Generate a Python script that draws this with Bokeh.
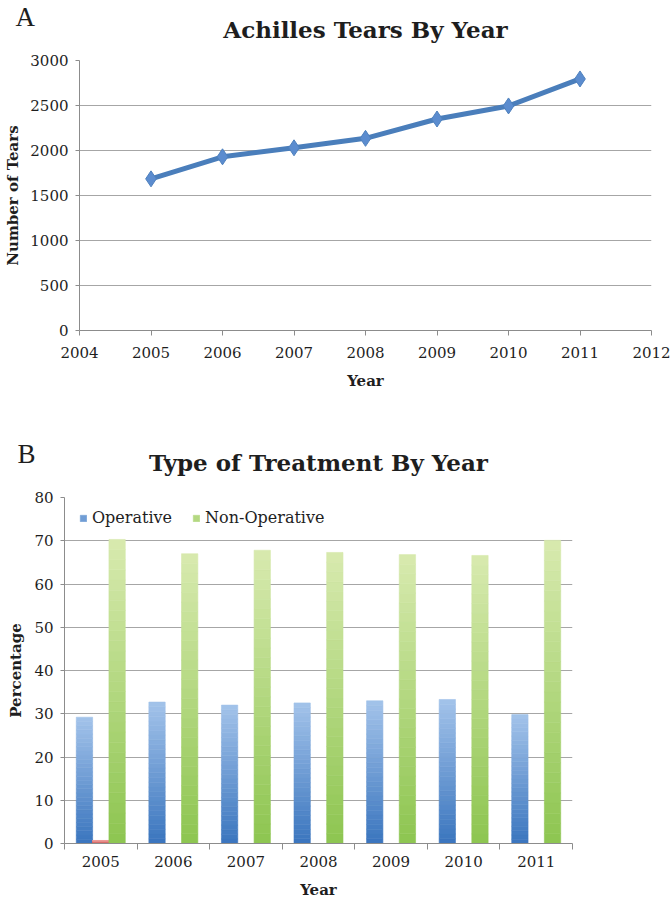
from bokeh.plotting import figure
from bokeh.models import (ColumnDataSource, FixedTicker, SingleIntervalTicker, Label,
                          Legend, LegendItem)
from bokeh.embed import file_html
from bokeh.resources import INLINE

# ---------------- data ----------------
tear_years = [2005, 2006, 2007, 2008, 2009, 2010, 2011]
tear_counts = [1685, 1930, 2030, 2135, 2350, 2495, 2795]
tear_axis_ticks = [2004, 2005, 2006, 2007, 2008, 2009, 2010, 2011, 2012]

treat_years = ["2005", "2006", "2007", "2008", "2009", "2010", "2011"]
operative = [29.2, 32.7, 32.0, 32.5, 33.0, 33.3, 29.8]
non_operative = [70.3, 67.0, 67.8, 67.3, 66.8, 66.6, 70.1]
other = [0.7, 0, 0, 0, 0, 0, 0]

SERIF = "DejaVu Serif"
GRID = "#a6a6a6"
AXIS = "#8c8c8c"
TXT = "#1e1e1e"


def style_axes(p):
    for ax in (p.xaxis[0], p.yaxis[0]):
        ax.major_label_text_font = SERIF
        ax.major_label_text_font_size = "15px"
        ax.major_label_text_color = TXT
        ax.axis_label_text_font = SERIF
        ax.axis_label_text_font_size = "15px"
        ax.axis_label_text_font_style = "bold"
        ax.axis_label_text_color = TXT
        ax.axis_line_color = AXIS
        ax.major_tick_line_color = AXIS
        ax.minor_tick_line_color = None
        ax.major_tick_in = 0
    p.xgrid.grid_line_color = None
    p.ygrid.grid_line_color = GRID
    p.outline_line_color = None
    p.title.text_font = SERIF
    p.title.text_font_size = "23px"
    p.title.text_font_style = "bold"
    p.title.text_color = TXT
    p.title.align = "center"


def panel_letter(letter, x, y):
    # placed in the right side panel (not clipped to the frame); screen offsets
    # are relative to that panel, whose left edge is the frame's right edge
    return Label(x=x, y=y, x_units="screen", y_units="screen", text=letter,
                 text_font="Liberation Serif", text_font_size="27px", text_color=TXT,
                 text_baseline="alphabetic", text_align="left")


# ---------------- chart A ----------------
p1 = figure(width=671, height=420, x_range=(2004, 2012), y_range=(0, 3000),
            output_backend="svg", toolbar_location=None,
            min_border_left=79, min_border_right=20, min_border_top=60, min_border_bottom=90,
            title="Achilles Tears By Year")
style_axes(p1)
p1.title.vertical_align = "top"
p1.title.standoff = 31
p1.xaxis.ticker = FixedTicker(ticks=tear_axis_ticks)
p1.xaxis.major_tick_out = 5
p1.xaxis.major_label_standoff = 11
p1.xaxis.axis_label = "Year"
p1.xaxis.axis_label_standoff = 11
p1.yaxis.ticker = SingleIntervalTicker(interval=500, num_minor_ticks=0)
p1.yaxis.major_tick_out = 4
p1.yaxis.major_label_standoff = 7
p1.yaxis.axis_label = "Number of Tears"
p1.yaxis.axis_label_standoff = 5

src_a = ColumnDataSource(dict(x=tear_years, y=tear_counts))
p1.line("x", "y", source=src_a, line_color="#4a7ebb", line_width=5, line_join="round")
p1.scatter("x", "y", source=src_a, marker="diamond", size=16,
           fill_color="#5b8ccf", line_color="#4f81bd")

p1.add_layout(panel_letter("A", -636, 314), "right")

# ---------------- chart B ----------------
year_nums = [int(y) for y in treat_years]
boundaries = [year_nums[0] - 0.5 + i for i in range(len(year_nums) + 1)]

p2 = figure(width=671, height=481, x_range=(year_nums[0] - 0.5, year_nums[-1] + 0.5),
            y_range=(0, 80), output_backend="svg", toolbar_location=None,
            min_border_left=64, min_border_right=99, min_border_top=77, min_border_bottom=58,
            title="Type of Treatment By Year")
style_axes(p2)
p2.title.standoff = 43
p2.xaxis.ticker = FixedTicker(ticks=year_nums, minor_ticks=boundaries)
p2.xaxis.major_label_overrides = {n: s for n, s in zip(year_nums, treat_years)}
p2.xaxis.major_tick_out = 0
p2.xaxis.minor_tick_line_color = AXIS
p2.xaxis.minor_tick_out = 6
p2.xaxis.minor_tick_in = 0
p2.xaxis.major_label_standoff = 6
p2.xaxis.axis_label = "Year"
p2.xaxis.axis_label_standoff = 11
p2.yaxis.ticker = SingleIntervalTicker(interval=10, num_minor_ticks=0)
p2.yaxis.major_tick_out = 4
p2.yaxis.major_label_standoff = 7
p2.yaxis.axis_label = "Percentage"
p2.yaxis.axis_label_standoff = 6

N = 30
BAR_W = 0.225


def hex2rgb(h):
    h = h.lstrip("#")
    return [int(h[i:i + 2], 16) for i in (0, 2, 4)]


def lerp(c0, c1, t):
    a, b = hex2rgb(c0), hex2rgb(c1)
    return "#%02x%02x%02x" % tuple(int(round(a[k] + (b[k] - a[k]) * t)) for k in range(3))


def gradient_source(vals, offset, c_bottom, c_top):
    d = dict(x=[], bottom=[], top=[], color=[])
    for yr, v in zip(year_nums, vals):
        for i in range(N):
            d["x"].append(yr + offset)
            d["bottom"].append(v * i / N)
            d["top"].append(v * (i + 1) / N)
            d["color"].append(lerp(c_bottom, c_top, (i + 0.5) / N))
    return ColumnDataSource(d)


r_op = p2.vbar(x="x", bottom="bottom", top="top", width=BAR_W, fill_color="color",
               line_color="color", line_width=0.6,
               source=gradient_source(operative, -BAR_W, "#3a75be", "#a3c3ea"))
r_other = p2.vbar(x="x", bottom="bottom", top="top", width=BAR_W, fill_color="color",
                  line_color="color", line_width=0.6,
                  source=gradient_source(other, 0.0, "#c9423f", "#ee9c99"))
r_non = p2.vbar(x="x", bottom="bottom", top="top", width=BAR_W, fill_color="color",
                line_color="color", line_width=0.6,
                source=gradient_source(non_operative, BAR_W, "#8dc550", "#d8eaaf"))

legend = Legend(items=[LegendItem(label="Operative", renderers=[r_op], index=N // 2),
                       LegendItem(label="Non-Operative", renderers=[r_non], index=N // 2)],
                orientation="horizontal", location=(15, 316),
                border_line_color=None, background_fill_alpha=0,
                label_text_font=SERIF, label_text_font_size="16px", label_text_color=TXT,
                glyph_width=8, glyph_height=8, label_standoff=5, spacing=20, padding=4,
                margin=0)
p2.add_layout(legend, "center")

p2.add_layout(panel_letter("B", -555, 390), "right")

open("out.html", "w").write(file_html([p1, p2], INLINE))
